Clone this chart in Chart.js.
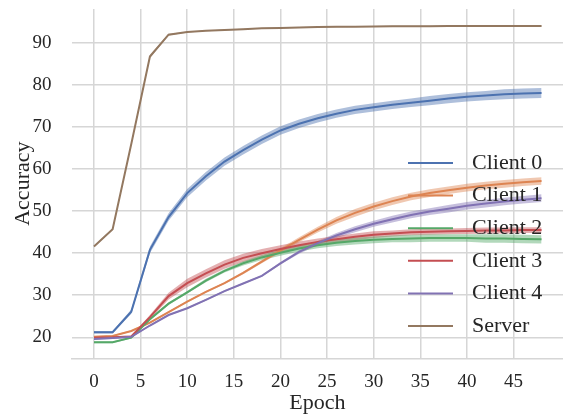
<!DOCTYPE html>
<html>
<head>
<meta charset="utf-8">
<script src="https://cdn.jsdelivr.net/npm/chart.js@4/dist/chart.umd.min.js"></script>
<style>
  html, body { margin: 0; padding: 0; background: #fff; overflow: hidden; }
  #wrap { width: 563px; height: 415px; }
</style>
</head>
<body>
<div id="wrap"><canvas id="accuracyChart" width="563" height="415"></canvas></div>
<script>
// evaluation every 2 epochs
const epochs = [0, 2, 4, 6, 8, 10, 12, 14, 16, 18, 20, 22, 24, 26, 28, 30, 32, 34, 36, 38, 40, 42, 44, 46, 48];

const seriesNames = ['Client 0', 'Client 1', 'Client 2', 'Client 3', 'Client 4', 'Server'];

const client0Acc = [21.2, 21.2, 26.1, 40.8, 48.6, 54.3, 58.3, 61.8, 64.5, 67.0, 69.2, 70.8, 72.1, 73.2, 74.1, 74.7, 75.3, 75.8, 76.3, 76.8, 77.2, 77.5, 77.8, 78.0, 78.1];
const client1Acc = [20.1, 20.3, 21.5, 23.5, 26.0, 28.5, 30.8, 32.9, 35.3, 38.0, 40.7, 43.2, 45.6, 47.8, 49.6, 51.1, 52.4, 53.5, 54.3, 55.0, 55.6, 56.1, 56.5, 56.9, 57.2];
const client2Acc = [18.8, 18.8, 19.9, 24.3, 28.0, 30.7, 33.5, 35.8, 37.6, 39.0, 40.1, 41.1, 41.9, 42.5, 42.9, 43.2, 43.4, 43.5, 43.6, 43.6, 43.6, 43.5, 43.5, 43.4, 43.3];
const client3Acc = [19.9, 20.0, 20.2, 24.8, 29.8, 32.9, 35.2, 37.3, 38.9, 40.0, 41.0, 41.9, 42.7, 43.3, 43.9, 44.4, 44.7, 45.0, 45.1, 45.2, 45.3, 45.4, 45.4, 45.5, 45.5];
const client4Acc = [19.6, 19.8, 20.1, 22.8, 25.3, 26.9, 28.9, 31.0, 32.8, 34.6, 37.6, 40.3, 42.4, 44.2, 45.7, 47.0, 48.1, 49.1, 49.9, 50.6, 51.3, 51.8, 52.3, 52.7, 53.1];
const serverAcc  = [41.6, 45.7, 66.0, 86.8, 92.0, 92.6, 92.9, 93.1, 93.3, 93.5, 93.6, 93.7, 93.8, 93.85, 93.9, 93.95, 94.0, 94.0, 94.0, 94.05, 94.05, 94.05, 94.05, 94.05, 94.05];

// half width of the shaded band around each mean curve
const client0Spread = [0.3, 0.3, 0.5, 0.8, 0.9, 1.0, 1.0, 1.0, 1.0, 1.0, 1.0, 1.0, 1.0, 1.0, 1.0, 1.0, 1.0, 1.0, 1.1, 1.1, 1.1, 1.1, 1.2, 1.2, 1.2];
const client1Spread = [0.2, 0.2, 0.2, 0.2, 0.2, 0.2, 0.2, 0.2, 0.3, 0.4, 0.5, 0.6, 0.7, 0.8, 0.9, 0.9, 0.9, 0.9, 0.9, 0.9, 0.9, 0.9, 0.9, 0.9, 0.9];
const client2Spread = [0.2, 0.2, 0.2, 0.3, 0.3, 0.3, 0.4, 0.4, 0.5, 0.6, 0.7, 0.7, 0.7, 0.8, 0.8, 0.8, 0.8, 0.9, 0.9, 0.9, 0.9, 1.0, 1.0, 1.0, 1.0];
const client3Spread = [0.2, 0.2, 0.2, 0.5, 0.8, 1.0, 1.0, 1.0, 1.0, 1.0, 0.9, 0.9, 0.8, 0.8, 0.8, 0.8, 0.7, 0.7, 0.7, 0.7, 0.7, 0.7, 0.7, 0.7, 0.7];
const client4Spread = [0.2, 0.2, 0.2, 0.2, 0.2, 0.2, 0.2, 0.2, 0.2, 0.2, 0.3, 0.4, 0.5, 0.6, 0.7, 0.7, 0.8, 0.8, 0.8, 0.9, 0.9, 0.9, 0.9, 0.9, 0.9];
const serverSpread  = [0.2, 0.2, 0.3, 0.4, 0.2, 0.1, 0.1, 0.1, 0.1, 0.1, 0.1, 0.1, 0.1, 0.1, 0.1, 0.1, 0.1, 0.1, 0.1, 0.1, 0.1, 0.1, 0.1, 0.1, 0.1];

const xTicks = [0, 5, 10, 15, 20, 25, 30, 35, 40, 45];
const yTicks = [20, 30, 40, 50, 60, 70, 80, 90];

// seaborn "deep" palette
const colors = ['#4c72b0', '#dd8452', '#55a868', '#c44e52', '#8172b3', '#937860'];
const allAcc = [client0Acc, client1Acc, client2Acc, client3Acc, client4Acc, serverAcc];
const allSpread = [client0Spread, client1Spread, client2Spread, client3Spread, client4Spread, serverSpread];

const FONT = "'Liberation Serif', 'Times New Roman', serif";
const TEXT = '#262626';
const GRID = '#d6d6d6';

function hexA(hex, a) {
  const n = parseInt(hex.slice(1), 16);
  return `rgba(${n >> 16}, ${(n >> 8) & 255}, ${n & 255}, ${a})`;
}

function pts(ys) {
  return epochs.map((e, i) => ({ x: e, y: ys[i] }));
}

const datasets = [];
seriesNames.forEach((name, s) => {
  const acc = allAcc[s];
  const spr = allSpread[s];
  // band: upper edge then lower edge filled up to it
  datasets.push({
    label: name + ' hi',
    data: pts(acc.map((v, i) => v + spr[i])),
    borderWidth: 0,
    pointRadius: 0,
    fill: false,
    order: 20 + s
  });
  datasets.push({
    label: name + ' lo',
    data: pts(acc.map((v, i) => v - spr[i])),
    borderWidth: 0,
    pointRadius: 0,
    backgroundColor: hexA(colors[s], 0.45),
    fill: '-1',
    order: 20 + s
  });
  datasets.push({
    label: name,
    data: pts(acc),
    borderColor: colors[s],
    borderWidth: 2,
    pointRadius: 0,
    fill: false,
    tension: 0,
    order: 10 - s
  });
});

// legend drawn inside the plot, no frame
const innerLegend = {
  id: 'innerLegend',
  afterDatasetsDraw(chart, args, opts) {
    const ctx = chart.ctx;
    ctx.save();
    ctx.font = `${opts.fontSize}px ${FONT}`;
    ctx.textBaseline = 'middle';
    ctx.fillStyle = TEXT;
    seriesNames.forEach((name, i) => {
      const y = opts.top + i * opts.step;
      ctx.strokeStyle = colors[i];
      ctx.lineWidth = 2;
      ctx.beginPath();
      ctx.moveTo(opts.x, y);
      ctx.lineTo(opts.x + opts.lineLen, y);
      ctx.stroke();
      ctx.fillText(name, opts.x + opts.lineLen + opts.gap, y);
    });
    ctx.restore();
  }
};

new Chart(document.getElementById('accuracyChart').getContext('2d'), {
  type: 'line',
  data: { datasets },
  plugins: [innerLegend],
  options: {
    responsive: false,
    animation: false,
    layout: { padding: { top: 9, right: 0, left: 0, bottom: 0 } },
    plugins: {
      legend: { display: false },
      tooltip: { enabled: false },
      innerLegend: { x: 408, top: 163, step: 32.6, lineLen: 45, gap: 19, fontSize: 22 }
    },
    scales: {
      x: {
        type: 'linear',
        min: -2.4,
        max: 50.3,
        afterBuildTicks: s => { s.ticks = xTicks.map(v => ({ value: v })); },
        afterFit: s => { s.height = 56.7; s.paddingLeft = 0; s.paddingRight = 0; },
        grid: { color: GRID, lineWidth: 1.5, drawTicks: false },
        border: { display: true, color: GRID, width: 1.5 },
        ticks: { color: TEXT, font: { family: FONT, size: 19 }, padding: 12, maxRotation: 0 },
        title: { display: true, text: 'Epoch', color: TEXT, font: { family: FONT, size: 22, lineHeight: 1.1 }, padding: 0 }
      },
      y: {
        min: 15.0,
        max: 98.1,
        afterBuildTicks: s => { s.ticks = yTicks.map(v => ({ value: v })); },
        afterFit: s => { s.width = 71.6; s.paddingTop = 0; s.paddingBottom = 0; },
        grid: { color: GRID, lineWidth: 1.5, drawTicks: false },
        border: { display: false },
        ticks: { color: TEXT, font: { family: FONT, size: 19 }, padding: 20 },
        title: { display: true, text: 'Accuracy', color: TEXT, font: { family: FONT, size: 22, lineHeight: 1.1 }, padding: { top: 11, bottom: 0 } }
      }
    }
  }
});
</script>
</body>
</html>
